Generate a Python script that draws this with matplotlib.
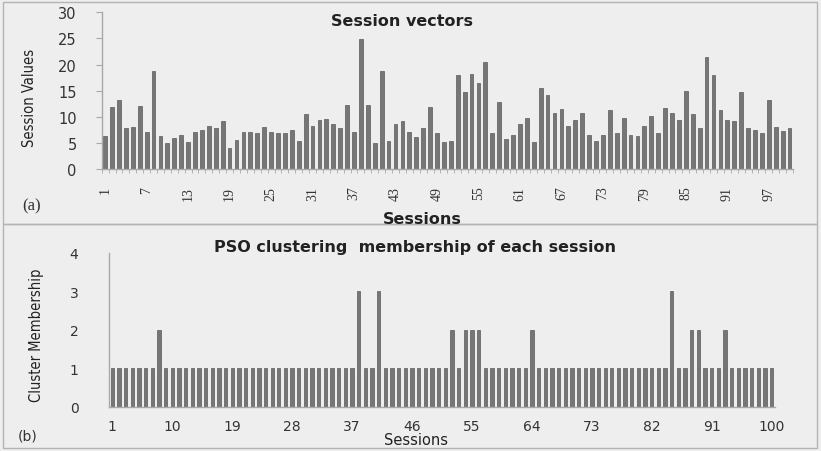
"""Session vectors (a) and PSO cluster membership (b), two stacked bar panels."""

import matplotlib
matplotlib.use("Agg")
import matplotlib.pyplot as plt
from matplotlib.patches import Rectangle

# ---- data ------------------------------------------------------------------
sessions = list(range(1, 101))

session_values = [
    6.4, 11.9, 13.2, 7.8, 8.1, 12.1, 7.0, 18.8, 6.4, 4.9,
    6.0, 6.6, 5.1, 7.0, 7.5, 8.3, 7.8, 9.1, 4.0, 5.6,
    7.0, 7.0, 6.8, 8.1, 7.0, 6.8, 6.8, 7.5, 5.3, 10.5,
    8.3, 9.3, 9.6, 8.6, 7.8, 12.3, 7.1, 24.8, 12.3, 4.9,
    18.8, 5.4, 8.7, 9.1, 7.1, 6.1, 7.8, 11.9, 6.8, 5.1,
    5.4, 18.0, 14.7, 18.2, 16.5, 20.4, 6.8, 12.8, 5.7, 6.5,
    8.6, 9.7, 5.1, 15.6, 14.2, 10.8, 11.4, 8.2, 9.4, 10.8,
    6.6, 5.4, 6.6, 11.2, 6.8, 9.7, 6.6, 6.3, 8.3, 10.1,
    6.8, 11.7, 10.8, 9.4, 14.9, 10.5, 7.8, 21.4, 18.0, 11.2,
    9.4, 9.1, 14.7, 7.8, 7.5, 6.8, 13.2, 8.1, 7.2, 7.8,
]

# cluster id per session: 1 everywhere except the few listed below
cluster_two = [8, 52, 54, 55, 56, 64, 88, 89, 93]
cluster_three = [38, 41, 85]
membership = [3 if s in cluster_three else 2 if s in cluster_two else 1
              for s in sessions]

top_ticks = list(range(1, 101, 6))      # 1, 7, ..., 97
bottom_ticks = list(range(1, 101, 9))   # 1, 10, ..., 100

# ---- style -----------------------------------------------------------------
BG = "#eeeeee"
BAR = "#767676"
BAR_EDGE = "#5a5a5a"
AXIS = "#a8a8a8"
TXT = "#333333"
SERIF = ["Liberation Serif", "DejaVu Serif"]

fig = plt.figure(figsize=(8.21, 4.52), dpi=100)
fig.patch.set_facecolor(BG)
W, H = 821, 452


def fx(px):
    return px / W


def fy(py):
    return 1 - py / H


# panel frames
for y0, y1 in ((3, 225), (225, 449)):
    fig.add_artist(Rectangle((fx(3), fy(y1)), fx(814), (y1 - y0) / H,
                             transform=fig.transFigure, fill=False,
                             edgecolor="#b4b4b4", linewidth=1.0))

# ---- (a) session vectors -----------------------------------------------------
ax1 = fig.add_axes([fx(101.7), fy(170), fx(793 - 101.7), (170 - 13.3) / H])
ax1.set_facecolor(BG)
ax1.bar(sessions, session_values, width=0.55, color=BAR, edgecolor=BAR_EDGE,
        linewidth=0.5)
ax1.set_xlim(0.5, 100.5)
ax1.set_ylim(0, 30)
ax1.set_yticks(range(0, 31, 5))
ax1.set_xticks(top_ticks)
ax1.set_xticks([s + 0.5 for s in range(0, 101)], minor=True)
ax1.set_xticklabels([str(t) for t in top_ticks], rotation=90, family=SERIF,
                    fontsize=10, color=TXT)
ax1.tick_params(axis="x", which="major", length=0, pad=12)
ax1.tick_params(axis="x", which="minor", length=3, color=AXIS, width=0.6)
ax1.tick_params(axis="y", length=4, color=AXIS, width=0.8, pad=14,
                labelsize=10.5, labelcolor=TXT)
for s in ("top", "right"):
    ax1.spines[s].set_visible(False)
for s in ("left", "bottom"):
    ax1.spines[s].set_color(AXIS)
    ax1.spines[s].set_linewidth(1.0)

fig.text(fx(402), fy(21), "Session vectors", ha="center", va="center",
         fontsize=11.5, fontweight="bold", color="#222222")
fig.text(fx(30), fy(98), "Session Values", ha="center", va="center",
         rotation=90, fontsize=10.5, family="DejaVu Sans",
         fontstretch="condensed", color="#222222")
fig.text(fx(422), fy(219), "Sessions", ha="center", va="center",
         fontsize=11.5, fontweight="bold", color="#222222")
fig.text(fx(32), fy(206), "(a)", ha="center", va="center", fontsize=12,
         family=SERIF, color=TXT)

# ---- (b) cluster membership -------------------------------------------------
ax2 = fig.add_axes([fx(109), fy(407.7), fx(666), (407.7 - 254) / H])
ax2.set_facecolor(BG)
ax2.bar(sessions, membership, width=0.5, color=BAR, edgecolor=BAR_EDGE,
        linewidth=0.5)
ax2.set_xlim(0.5, 100.5)
ax2.set_ylim(0, 4)
ax2.set_yticks(range(0, 5))
ax2.set_xticks(bottom_ticks)
ax2.tick_params(axis="x", length=0, pad=9, labelsize=10, labelcolor=TXT)
ax2.tick_params(axis="y", length=0, pad=22, labelsize=10, labelcolor=TXT)
for s in ("top", "right"):
    ax2.spines[s].set_visible(False)
for s in ("left", "bottom"):
    ax2.spines[s].set_color(AXIS)
    ax2.spines[s].set_linewidth(1.0)

fig.text(fx(415), fy(248), "PSO clustering  membership of each session",
         ha="center", va="center", fontsize=11.5, fontweight="bold",
         color="#222222")
fig.text(fx(36), fy(335), "Cluster Membership", ha="center", va="center",
         rotation=90, fontsize=10.5, family="DejaVu Sans",
         fontstretch="condensed", color="#222222")
fig.text(fx(416), fy(441), "Sessions", ha="center", va="center",
         fontsize=10.5, color="#222222")
fig.text(fx(28), fy(437), "(b)", ha="center", va="center", fontsize=10,
         color=TXT)

fig.savefig("out.png", dpi=100, facecolor=BG)
